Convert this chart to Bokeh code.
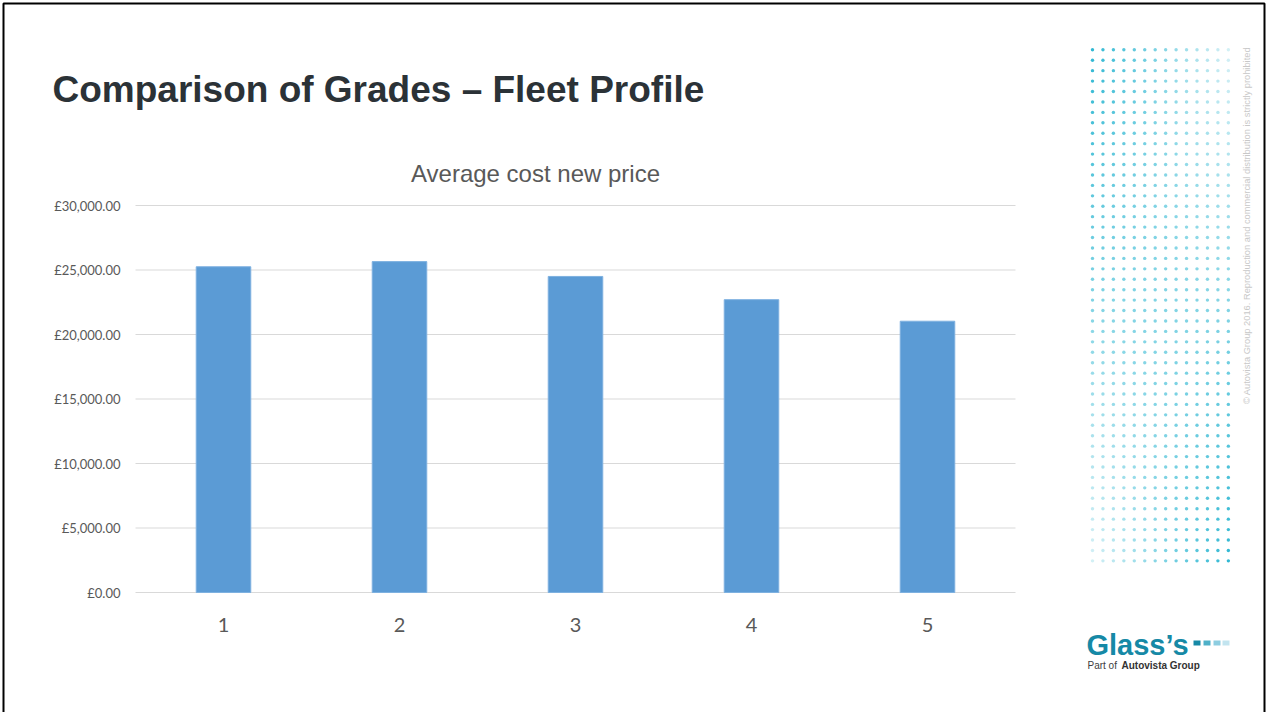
import math
from bokeh.plotting import figure
from bokeh.models import FixedTicker, Range1d
from bokeh.core.properties import value
from bokeh.embed import file_html
from bokeh.resources import INLINE

# ---------------- data ----------------
grades = [1, 2, 3, 4, 5]
grade_labels = ["1", "2", "3", "4", "5"]
avg_cost = [25250, 25650, 24500, 22700, 21030]
y_ticks = [0, 5000, 10000, 15000, 20000, 25000, 30000]
y_tick_labels = ["£0.00", "£5,000.00", "£10,000.00", "£15,000.00",
                 "£20,000.00", "£25,000.00", "£30,000.00"]
page_title = "Comparison of Grades – Fleet Profile"
chart_title = "Average cost new price"
watermark = "© Autovista Group 2016. Reproduction and commercial distribution is strictly prohibited"

# ---------------- layout (pixels) ----------------
W, H = 1267, 712
FL, FR, FT, FB = 135, 1015, 205, 592          # chart area edges
ppx = (FR - FL) / len(grades)
x_start = 0.5 - FL / ppx
x_end = 0.5 + (W - FL) / ppx
upp = y_ticks[-1] / (FB - FT)
y_start = -(H - FB) * upp
y_end = FB * upp

p = figure(width=W, height=H, x_range=Range1d(x_start, x_end), y_range=Range1d(y_start, y_end),
           min_border=0, title=None, output_backend="svg", toolbar_location=None, tools="")
p.extra_x_ranges = {"px": Range1d(0, W)}
p.extra_y_ranges = {"px": Range1d(H, 0)}
p.outline_line_color = None
p.background_fill_color = "white"
p.border_fill_color = "white"
p.grid.visible = False

# gridlines limited to the chart area
p.segment(x0=[0.5] * len(y_ticks), x1=[len(grades) + 0.5] * len(y_ticks), y0=y_ticks, y1=y_ticks,
          line_color="#d9d9d9", line_width=1, level="underlay")

# bars
p.vbar(x=grades, top=avg_cost, width=0.31, fill_color="#5b9bd5", line_color="#7eb1e0", line_width=1)

# axes
p.yaxis.fixed_location = 0.5
p.xaxis.fixed_location = 0
p.yaxis.ticker = FixedTicker(ticks=y_ticks)
p.yaxis.major_label_overrides = {t: l for t, l in zip(y_ticks, y_tick_labels)}
p.xaxis.ticker = FixedTicker(ticks=grades)
p.xaxis.major_label_overrides = {g: l for g, l in zip(grades, grade_labels)}
for ax in (p.xaxis[0], p.yaxis[0]):
    ax.axis_line_color = None
    ax.major_tick_line_color = None
    ax.minor_tick_line_color = None
    ax.major_tick_out = 0
    ax.major_tick_in = 0
    ax.major_label_text_color = "#595959"
    ax.major_label_text_font = "Lato"
p.yaxis.major_label_text_font_size = "13px"
p.yaxis.major_label_standoff = 15
p.xaxis.major_label_text_font_size = "20px"
p.xaxis.major_label_standoff = 25

PX = dict(x_range_name="px", y_range_name="px")

# page frame
p.quad(left=[3], right=[W - 3], top=[3], bottom=[H + 20], fill_color=None,
       line_color="#000000", line_width=2, **PX)

# titles
p.text(x=[52], y=[89], text=[page_title], text_font=value("Liberation Sans"),
       text_font_style="bold", text_font_size="37px", text_color="#2b3237",
       text_baseline="alphabetic", **PX)
p.text(x=[535], y=[173], text=[chart_title], text_font=value("Liberation Sans"),
       text_font_size="24px", text_color="#595959", text_align="center",
       text_baseline="middle", **PX)

# dotted decoration
xs, ys, alphas = [], [], []
ncol, nrow = 14, 50
for j in range(nrow):
    tr = j / (nrow - 1)
    for i in range(ncol):
        tc = i / (ncol - 1)
        xs.append(1092 + i * 10.45)
        ys.append(49.3 + j * 10.43)
        alphas.append(0.92 - 0.72 * ((tc - 0.5) * (1 - 2 * tr) + 0.5))
p.scatter(x=xs, y=ys, size=3.4, marker="circle", fill_color="#1fb2cf", line_color=None,
          fill_alpha=alphas, **PX)

# watermark
p.text(x=[1246], y=[225], text=[watermark], angle=math.pi / 2, text_align="center",
       text_baseline="middle", text_font=value("Liberation Sans"), text_font_size="9.3px",
       text_color="#c8c8c8", **PX)

# logo
p.text(x=[1086], y=[644], text=["Glass\u2019s"], text_font=value("Liberation Sans"),
       text_font_style="bold", text_font_size="29px", text_color="#1689a6",
       text_baseline="alphabetic", **PX)
p.rect(x=[1196.5, 1206.5, 1216.5, 1225.5], y=[642.5] * 4, width=7, height=5,
       width_units="screen", height_units="screen",
       fill_color=["#1689a6", "#4fb0c8", "#8dcde0", "#c2e4ef"], line_color=None, **PX)
p.text(x=[1087], y=[665], text=["Part of"], text_font=value("Liberation Sans"),
       text_font_size="10px", text_color="#404040", text_baseline="alphabetic", **PX)
p.text(x=[1121], y=[665], text=["Autovista Group"], text_font=value("Liberation Sans"),
       text_font_style="bold", text_font_size="10px", text_color="#333333",
       text_baseline="alphabetic", **PX)

open("out.html", "w").write(file_html(p, INLINE))
